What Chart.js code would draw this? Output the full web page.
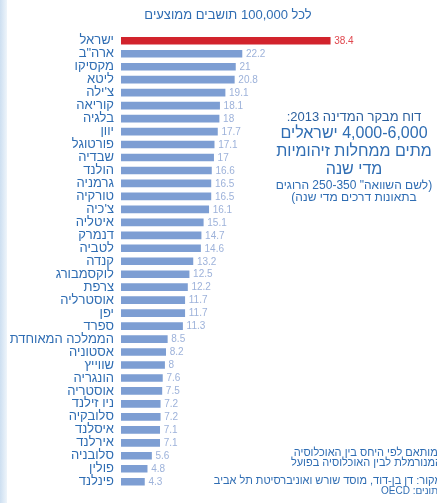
<!DOCTYPE html>
<html lang="he">
<head>
<meta charset="utf-8">
<script src="https://cdn.jsdelivr.net/npm/chart.js@4.4.1/dist/chart.umd.min.js"></script>
<style>
  html, body { margin: 0; padding: 0; background: #ffffff; }
  #wrap { width: 437px; height: 503px; position: relative; }
</style>
</head>
<body>
<div id="wrap"><canvas id="c" width="437" height="503"></canvas></div>
<script>
const categories = ["ישראל","ארה\"ב","מקסיקו","ליטא","צ'ילה","קוריאה","בלגיה","יוון","פורטוגל","שבדיה","הולנד","גרמניה","טורקיה","צ'כיה","איטליה","דנמרק","לטביה","קנדה","לוקסמבורג","צרפת","אוסטרליה","יפן","ספרד","הממלכה המאוחדת","אסטוניה","שווייץ","הונגריה","אוסטריה","ניו זילנד","סלובקיה","איסלנד","אירלנד","סלובניה","פולין","פינלנד"];
const deaths = [38.4,22.2,21,20.8,19.1,18.1,18,17.7,17.1,17,16.6,16.5,16.5,16.1,15.1,14.7,14.6,13.2,12.5,12.2,11.7,11.7,11.3,8.5,8.2,8,7.6,7.5,7.2,7.2,7.1,7.1,5.6,4.8,4.3];
const highlightCategory = "ישראל";
const titleText = "לכל 100,000 תושבים ממוצעים";
const noteLines = ["דוח מבקר המדינה 2013:", "4,000-6,000 ישראלים", "מתים ממחלות זיהומיות", "מדי שנה", "(לשם השוואה\" 250-350 הרוגים", "בתאונות דרכים מדי שנה)"];
const footLines = ["*מותאם לפי היחס בין האוכלוסיה", "המנורמלת לבין האוכלוסיה בפועל", "מקור: דן בן-דוד, מוסד שורש ואוניברסיטת תל אביב", "נתונים: OECD"];

const FONT = "'Liberation Sans', Arial, 'DejaVu Sans', sans-serif";
const BLUE_TXT = "#2f6db3";
const BAR_BLUE = "#7d9ed3";
const BAR_RED = "#d2232c";

const barColors = categories.map(c => c === highlightCategory ? BAR_RED : BAR_BLUE);

const extras = {
  id: 'extras',
  beforeDraw(chart) {
    const ctx = chart.ctx;
    ctx.save();
    const g = ctx.createLinearGradient(0, 0, 8, 0);
    g.addColorStop(0, '#cddff1');
    g.addColorStop(1, '#f3f8fc');
    ctx.fillStyle = g;
    ctx.fillRect(0, 0, 7, chart.height);
    ctx.restore();
  },
  afterDatasetsDraw(chart) {
    const ctx = chart.ctx;
    ctx.save();
    const meta = chart.getDatasetMeta(0);
    ctx.font = "10px " + FONT;
    ctx.textBaseline = 'middle';
    ctx.textAlign = 'left';
    ctx.direction = 'ltr';
    meta.data.forEach((bar, i) => {
      ctx.fillStyle = categories[i] === highlightCategory ? '#e0474e' : '#9db2da';
      ctx.fillText(String(deaths[i]), bar.x + 4, bar.y + 0.5);
    });
    ctx.direction = 'rtl';
    ctx.textAlign = 'center';
    ctx.fillStyle = BLUE_TXT;
    ctx.font = "13px " + FONT;
    ctx.fillText(titleText, 228, 15);
    const cx = 354;
    const ys = [117, 134, 152, 170, 186, 198];
    const sizes = [13, 16, 16, 16, 12, 12];
    noteLines.forEach((t, i) => {
      ctx.font = sizes[i] + "px " + FONT;
      ctx.fillStyle = i === 0 ? '#2a5f9e' : BLUE_TXT;
      ctx.fillText(t, cx, ys[i]);
    });
    ctx.textAlign = 'right';
    const fy = [453, 463, 481, 491];
    const fs = [11, 11, 11, 10];
    footLines.forEach((t, i) => {
      ctx.font = fs[i] + "px " + FONT;
      ctx.fillStyle = BLUE_TXT;
      ctx.fillText(t, 442, fy[i]);
    });
    ctx.restore();
  }
};

new Chart(document.getElementById('c'), {
  type: 'bar',
  data: {
    labels: categories,
    datasets: [{
      data: deaths,
      backgroundColor: barColors,
      borderWidth: 0,
      barThickness: 7
    }]
  },
  options: {
    indexAxis: 'y',
    responsive: false,
    animation: false,
    devicePixelRatio: 1,
    layout: { padding: { top: 34.3, bottom: 0, left: 0, right: 0 } },
    plugins: { legend: { display: false }, tooltip: { enabled: false }, title: { display: false } },
    scales: {
      x: { display: false, min: 0, max: 58 },
      y: {
        grid: { display: false, drawTicks: false },
        border: { display: false },
        ticks: {
          autoSkip: false,
          padding: 7,
          color: BLUE_TXT,
          font: { size: 13, family: FONT }
        },
        afterFit(scale) { scale.width = 121; }
      }
    }
  },
  plugins: [extras]
});
</script>
</body>
</html>
